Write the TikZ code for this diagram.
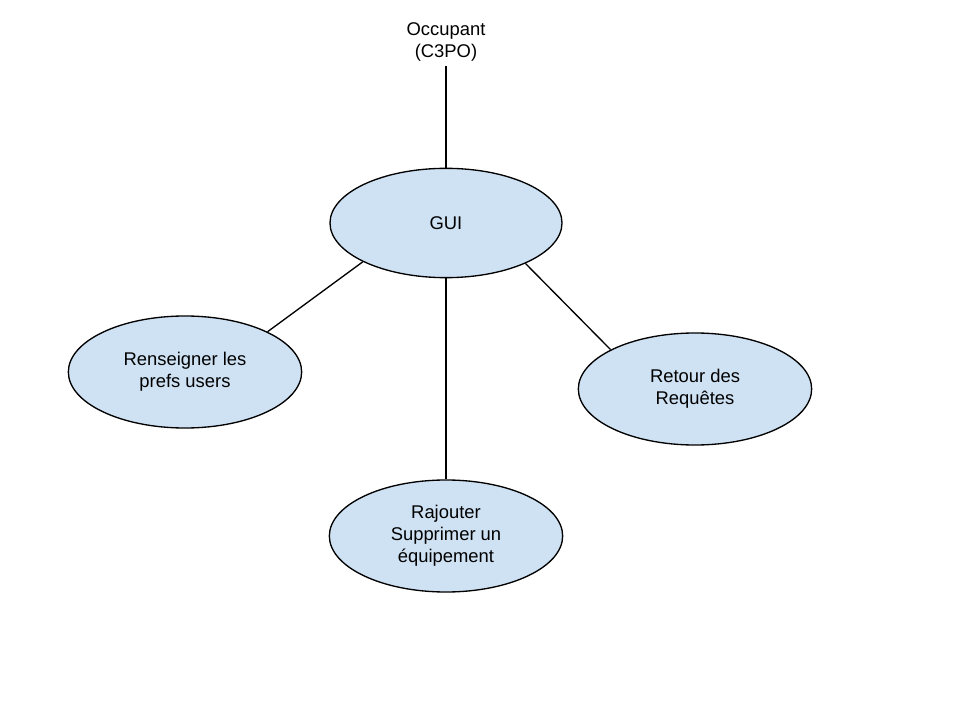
\documentclass[tikz,border=0pt]{standalone}
\usepackage{fontspec}
\setmainfont{Liberation Sans}
\usetikzlibrary{shapes.geometric}
\definecolor{ellfill}{HTML}{CFE2F3}
\begin{document}
\begin{tikzpicture}[x=0.75pt,y=-0.75pt,
  uc/.style={ellipse,draw=black,line width=1pt,fill=ellfill,inner sep=0pt,
    align=center,font=\fontsize{13.8}{16.5}\selectfont,
    minimum width=175pt,minimum height=84pt},
  lbl/.style={align=center,font=\fontsize{13.8}{16.5}\selectfont,inner sep=0pt},
  link/.style={draw=black,line width=1pt}]
\useasboundingbox (0,0) rectangle (960,720);
\node[lbl] (occ) at (446,42) {Occupant\\(C3PO)};
\coordinate (occend) at (446,66);
\node[uc,minimum width=174pt,minimum height=82pt] (gui) at (446,223) {GUI};
\node[uc] (pref) at (185,372) {Renseigner les\\prefs users};
\node[uc] (ret) at (695,389) {Retour des\\Requêtes};
\node[uc] (eq) at (446,536) {Rajouter\\Supprimer un\\équipement};
\draw[link] (occend) -- (gui.north);
\draw[link] (gui.205) -- (pref.26);
\draw[link] (gui.south) -- (eq.north);
\draw[link] (gui.333) -- (ret.155);
\end{tikzpicture}
\end{document}
